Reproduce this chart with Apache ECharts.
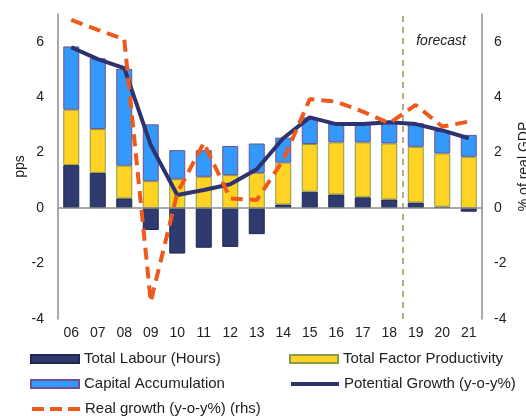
<!DOCTYPE html>
<html><head><meta charset="utf-8">
<script src="https://cdn.jsdelivr.net/npm/echarts@6/dist/echarts.min.js"></script>
<style>html,body{margin:0;padding:0;background:#fff}#c{width:526px;height:416px}</style>
</head><body><div id="c"></div>
<script>
const categories = ['06','07','08','09','10','11','12','13','14','15','16','17','18','19','20','21'];
const labour  = [1.55, 1.27, 0.35, -0.79, -1.64, -1.43, -1.40, -0.94, 0.13, 0.59, 0.49, 0.39, 0.31, 0.20, 0.05, -0.13];
const tfp     = [2.00, 1.58, 1.18, 0.97, 1.04, 1.13, 1.19, 1.27, 1.51, 1.72, 1.88, 1.98, 2.02, 2.01, 1.92, 1.85];
const capital = [2.28, 2.55, 3.49, 2.05, 1.05, 0.96, 1.05, 1.06, 0.90, 0.96, 0.69, 0.69, 0.79, 0.85, 0.81, 0.79];
const potential = [5.80, 5.37, 5.05, 2.27, 0.47, 0.65, 0.86, 1.40, 2.52, 3.27, 3.03, 3.03, 3.10, 3.03, 2.80, 2.52];
const realGrowth = [6.79, 6.43, 6.09, -3.38, 0.54, 2.35, 0.35, 0.29, 1.73, 3.93, 3.84, 3.48, 3.06, 3.72, 2.94, 3.12];
const yTicks = [-4, -2, 0, 2, 4, 6];
const forecastStart = 13; // boundary between '18' and '19'

const chart = echarts.init(document.getElementById('c'));
const font = 'Liberation Sans, Arial, sans-serif';
const txt = '#222';
const axisCommon = {
  type: 'value', min: -4, max: 7, interval: 2,
  splitLine: {show: false}, axisTick: {show: false},
  axisLine: {show: true, lineStyle: {color: '#8c8c8c', width: 1.5}},
  axisLabel: {color: txt, fontSize: 14, fontFamily: font,
    formatter: v => yTicks.includes(v) ? String(v) : ''},
  nameLocation: 'middle',
  nameTextStyle: {color: txt, fontSize: 14, fontFamily: font}
};
const C = {lab: '#2f3a6e', tfp: '#ffd324', cap: '#3399fa', pot: '#2e3370', real: '#ee5a1c'};
function leg(name, left, top, extra) {
  return Object.assign({
    left: left, top: top, padding: 0, itemWidth: 48, itemHeight: 8, itemGap: 0, icon: 'rect',
    textStyle: {color: txt, fontSize: 15, fontFamily: font, lineHeight: 16},
    data: [name]
  }, extra || {});
}
chart.setOption({
  animation: false,
  grid: {left: 58, right: 44, top: 14, bottom: 97, outerBoundsMode: 'none', containLabel: false},
  xAxis: [{
    type: 'category', data: categories,
    axisLine: {show: false}, axisTick: {show: false},
    axisLabel: {color: txt, fontSize: 14, fontFamily: font, margin: 7}
  }, {
    type: 'value', min: 0, max: categories.length, show: false
  }],
  yAxis: [
    Object.assign({}, axisCommon, {position: 'left', name: 'pps', nameGap: 31, nameMoveOverlap: false,
      axisLabel: Object.assign({}, axisCommon.axisLabel, {margin: 14})}),
    Object.assign({}, axisCommon, {position: 'right', name: '% of real GDP', nameGap: 34, nameRotate: 90,
      axisLabel: Object.assign({}, axisCommon.axisLabel, {margin: 12})})
  ],
  legend: [
    leg('Total Labour (Hours)', 30, 351),
    leg('Capital Accumulation', 30, 376),
    leg('Real growth (y-o-y%) (rhs)', 30, 401, {icon: undefined, data: [{name: 'Real growth (y-o-y%) (rhs)',
      itemStyle: {color: 'rgba(0,0,0,0)', borderWidth: 0},
      lineStyle: {width: 4, color: C.real, type: [12, 6]}}]}),
    leg('Total Factor Productivity', 289, 351),
    leg('Potential Growth (y-o-y%)', 289, 376, {icon: undefined, data: [{name: 'Potential Growth (y-o-y%)',
      itemStyle: {color: 'rgba(0,0,0,0)', borderWidth: 0},
      lineStyle: {width: 4, color: C.pot, type: 'solid'}}]})
  ],
  graphic: [{
    type: 'text', right: 60, top: 34,
    style: {text: 'forecast', fontSize: 14, fontStyle: 'italic', fontFamily: font, fill: txt}
  }],
  series: [
    {name: 'Total Labour (Hours)', type: 'bar', stack: 'a', data: labour, barWidth: 16,
     itemStyle: {color: C.lab, borderColor: '#1f2850', borderWidth: 1},
     markLine: {silent: true, symbol: 'none', label: {show: false},
       lineStyle: {color: '#8c8c8c', width: 1.5, type: 'solid'}, data: [{yAxis: 0}]}},
    {name: 'Total Factor Productivity', type: 'bar', stack: 'a', data: tfp, barWidth: 16,
     itemStyle: {color: C.tfp, borderColor: '#8a9a48', borderWidth: 1}},
    {name: 'Capital Accumulation', type: 'bar', stack: 'a', data: capital, barWidth: 16,
     itemStyle: {color: C.cap, borderColor: '#72508f', borderWidth: 1}},
    {name: 'forecastLine', type: 'line', xAxisIndex: 1, data: [],
     markLine: {silent: true, symbol: 'none', label: {show: false},
       lineStyle: {color: '#a0905a', width: 1.5, type: [6, 5]}, data: [{xAxis: forecastStart}]}},
    {name: 'Potential Growth (y-o-y%)', type: 'line', data: potential, symbol: 'none', z: 5,
     lineStyle: {color: C.pot, width: 4}, itemStyle: {color: C.pot}},
    {name: 'Real growth (y-o-y%) (rhs)', type: 'line', yAxisIndex: 1, data: realGrowth, symbol: 'none', z: 6,
     lineStyle: {color: C.real, width: 4, type: [12, 7]}, itemStyle: {color: C.real}}
  ]
});
</script></body></html>
